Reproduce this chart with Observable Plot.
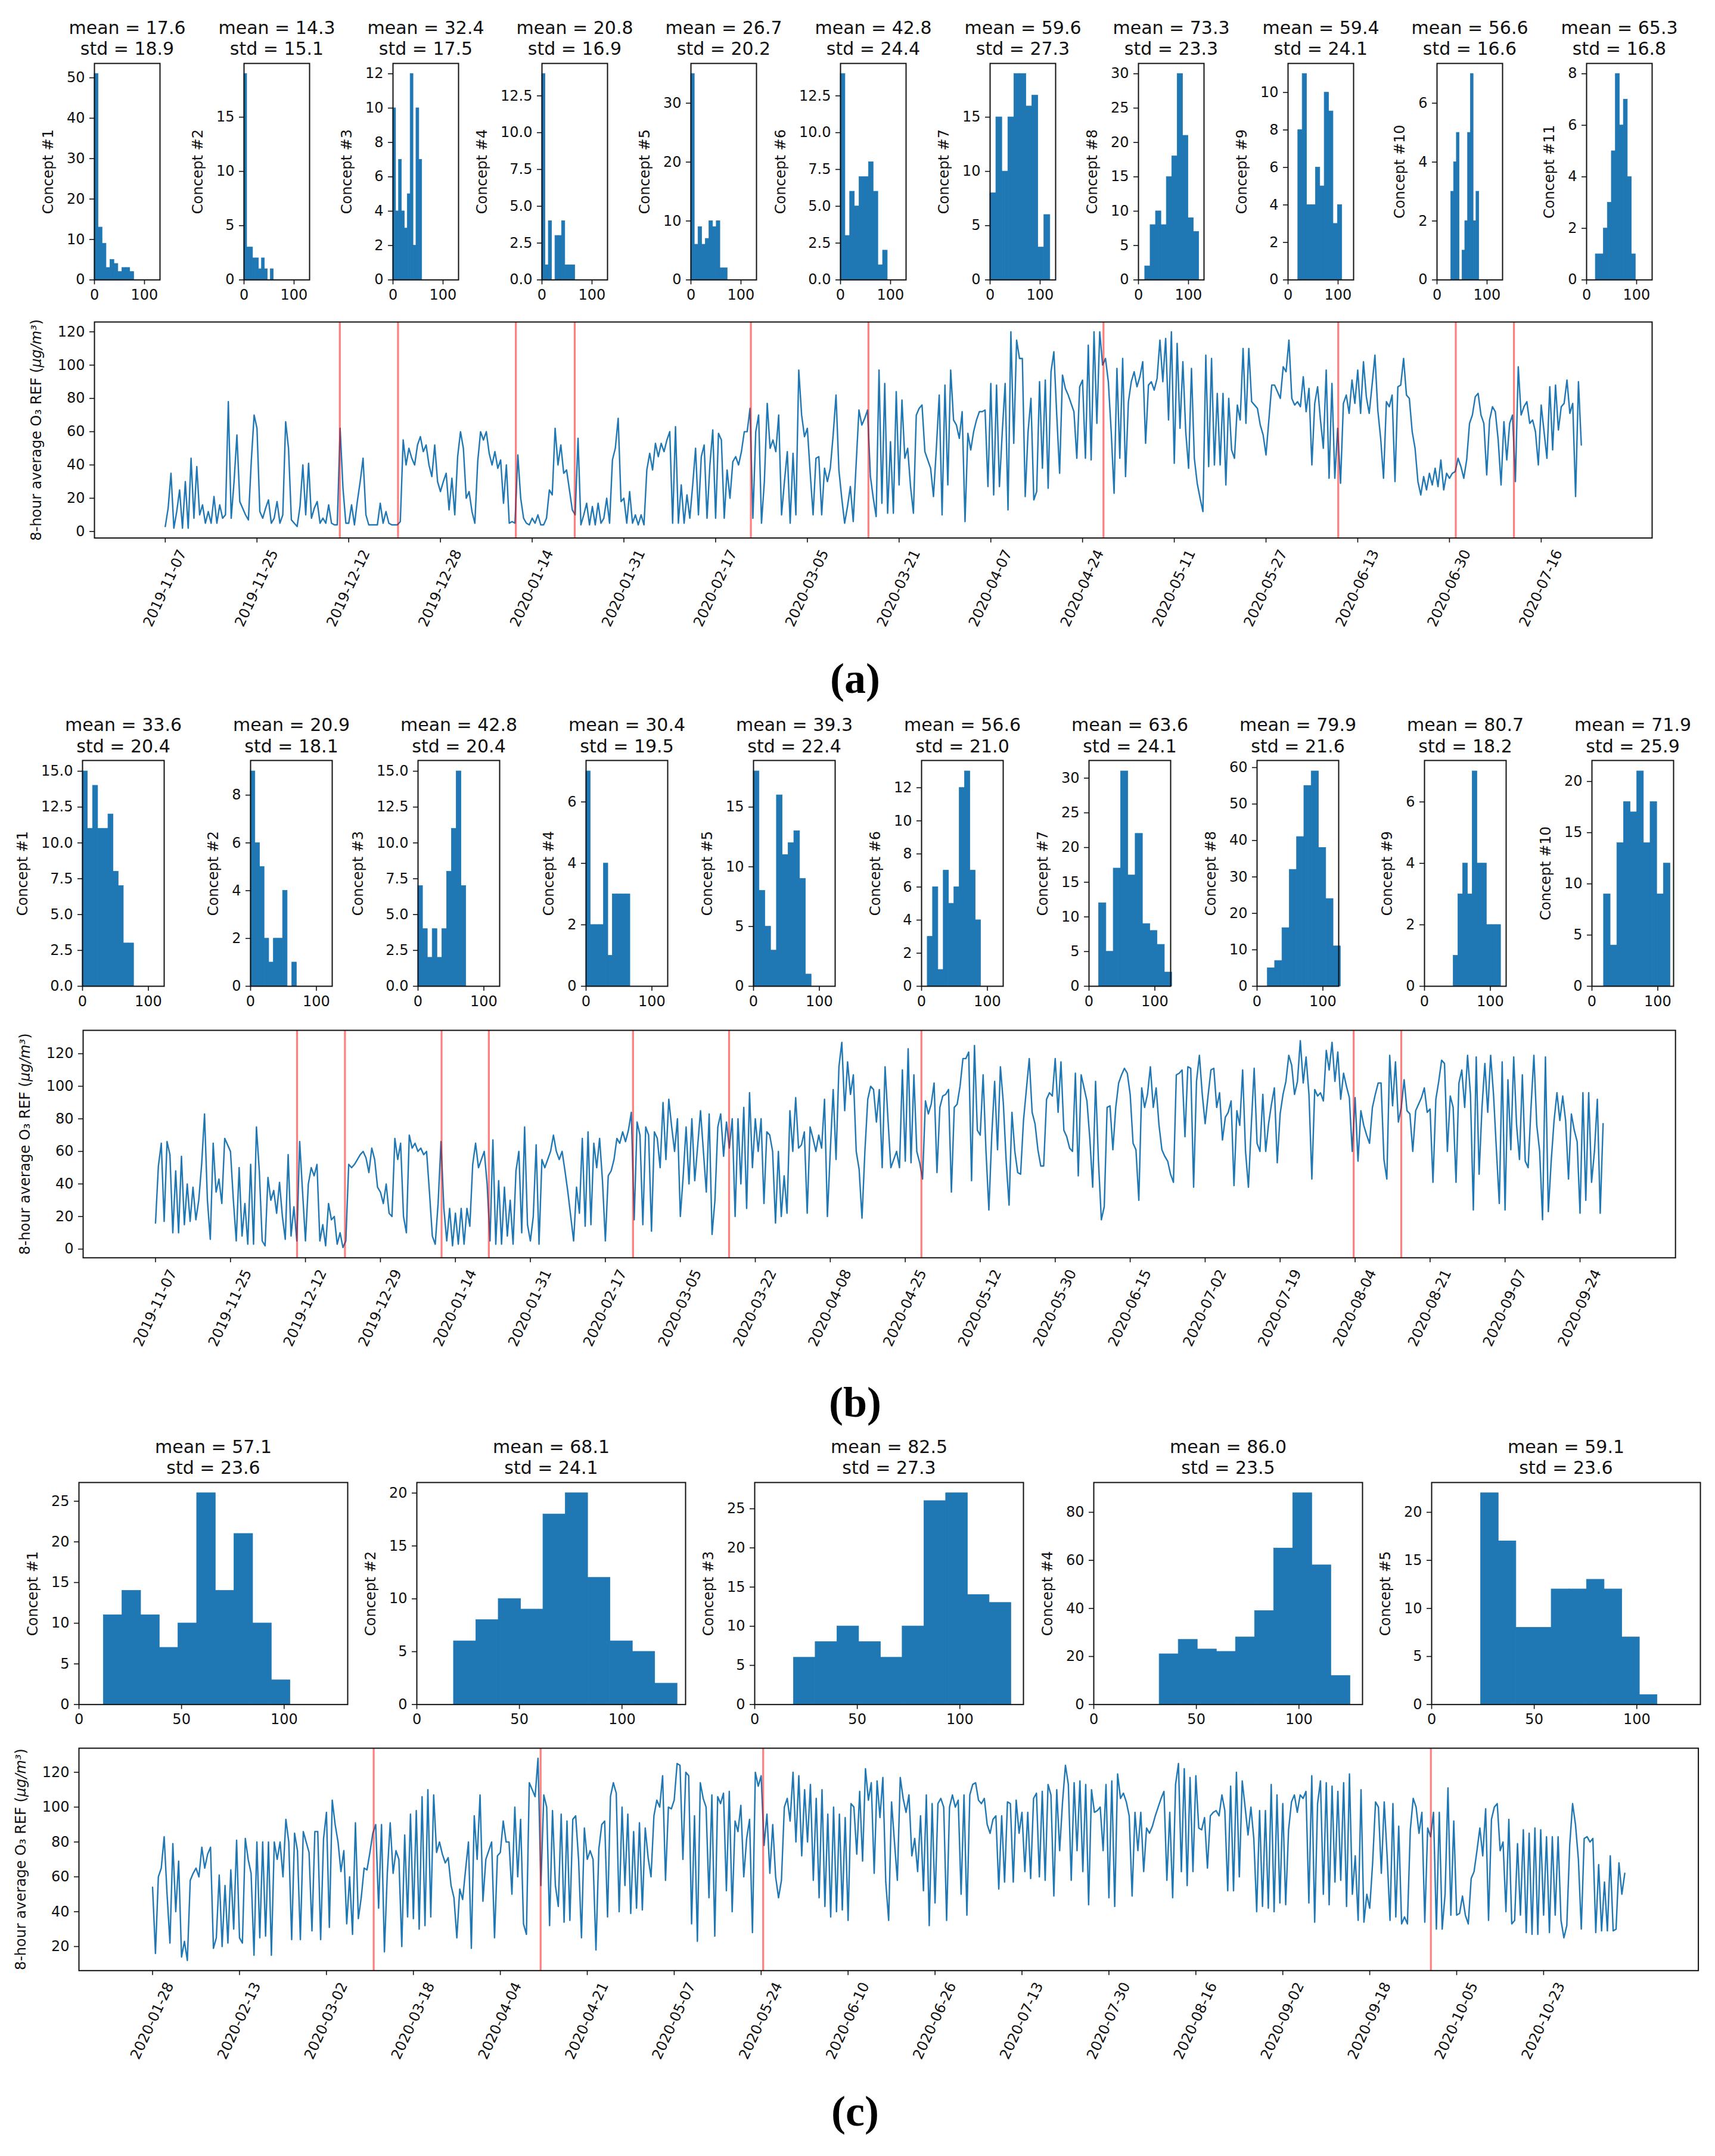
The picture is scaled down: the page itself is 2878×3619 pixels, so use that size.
<!DOCTYPE html>
<html>
<head>
<meta charset="utf-8">
<script src="https://cdn.jsdelivr.net/npm/d3@7"></script>
<script src="https://cdn.jsdelivr.net/npm/@observablehq/plot@0.6"></script>
<style>
  html, body { margin: 0; padding: 0; background: #fff; }
  #root { position: relative; width: 2878px; height: 3619px; background: #fff; overflow: hidden; }
  .cell { position: absolute; }
  .cell svg { display: block; overflow: visible; max-width: none; }
  .cap { position: absolute; width: 200px; margin-left: -100px; text-align: center;
         font-family: "Liberation Serif", "DejaVu Serif", serif; font-weight: bold;
         font-size: 72px; line-height: 72px; color: #000; }
</style>
</head>
<body>
<div id="root"></div>
<script>
// ===================== DATA =====================
// Panel (a): per-concept histograms
const aHistMean = [17.6,14.3,32.4,20.8,26.7,42.8,59.6,73.3,59.4,56.6,65.3];
const aHistStd  = [18.9,15.1,17.5,16.9,20.2,24.4,27.3,23.3,24.1,16.6,16.8];
const aBinLo = [0,0,0,0,0,0,0,13,20,28,18];
const aBinHi = [79,59,58,66,73,94,120,121,108,84,98];
const aCounts = [
  [51,13,9,3,5,4,2,3,3,2],
  [19,3,3,2,2,1,2,1,0,1],
  [10,4,7,4,3,5,12,2,10,7],
  [14,1,4,0,3,3,4,1,1,1],
  [35,6,9,6,7,10,9,10,2,2],
  [14,3,6,5,7,7,8,6,1,2],
  [8,15,10,15,19,19,16,17,3,6],
  [2,8,10,8,15,18,30,21,9,7],
  [8,11,4,4,6,5,10,9,3,4],
  [3,4,5,0,1,2,5,7,2,3],
  [1,1,2,3,5,8,6,7,4,1]
];
const aYStep = [10,5,2,2.5,10,2.5,5,5,2,2,2];

// Panel (b): per-concept histograms
const bHistMean = [33.6,20.9,42.8,30.4,39.3,56.6,63.6,79.9,80.7,71.9];
const bHistStd  = [20.4,18.1,20.4,19.5,22.4,21.0,24.1,21.6,18.2,25.9];
const bBinLo = [0,0,0,0,0,9,15,16,44,18];
const bBinHi = [78,70,73,67,88,90,126,127,116,119];
const bCounts = [
  [15,11,14,11,11,12,8,7,3,3],
  [9,6,5,2,1,2,2,4,0,1],
  [7,4,2,4,2,4,8,11,15,7],
  [7,2,2,2,4,1,3,3,3,3],
  [18,8,5,3,16,11,12,13,9,1],
  [3,6,1,7,5,6,12,13,7,4],
  [12,5,17,31,16,22,9,8,6,2],
  [5,7,16,32,41,55,59,38,24,11],
  [1,3,4,3,7,4,4,2,2,2],
  [9,4,14,18,17,21,14,18,9,12]
];
const bYStep = [2.5,2,2.5,2,5,2,5,10,2,5];

// Panel (c): per-concept histograms
const cHistMean = [57.1,68.1,82.5,86.0,59.1];
const cHistStd  = [23.6,24.1,27.3,23.5,23.6];
const cBinLo = [12,18,19,32,24];
const cBinHi = [103,127,125,125,110];
const cCounts = [
  [11,14,11,7,10,26,14,21,10,3],
  [6,8,10,9,18,20,12,6,5,2],
  [6,8,10,8,6,10,26,27,14,13],
  [21,27,23,22,28,39,65,88,58,12],
  [22,17,8,8,12,12,13,12,7,1]
];
const cYStep = [5,5,5,20,5];

// Time series (8-hour average O3, ug/m3), sampled evenly between date ticks
const aSeries = [
  3,14,35,2,12,25,2,30,2,44,8,39,10,16,5,12,5,21,5,16,8,10,78,8,30,58,18,14,10,7,42,70,
  62,12,8,14,19,5,8,18,5,10,66,50,7,5,3,15,40,10,41,8,14,18,5,8,5,16,5,4,4,62,26,5,
  5,16,4,18,30,44,10,4,4,4,4,17,5,12,5,4,4,4,6,55,40,50,44,40,52,57,48,52,40,33,52,30,
  24,30,35,13,32,10,45,60,50,20,24,12,5,42,60,55,60,47,40,48,38,43,17,40,5,6,5,46,20,8,5,4,
  8,5,10,4,4,8,25,22,62,40,52,35,37,25,13,10,56,4,10,17,4,15,4,17,5,8,20,5,43,50,68,18,
  20,5,24,5,10,4,10,4,37,47,37,53,45,53,48,55,60,5,63,5,28,5,22,8,28,50,10,45,52,8,40,61,
  8,59,55,8,37,20,42,45,40,48,60,60,74,8,60,70,5,30,77,50,55,48,70,10,30,48,5,47,10,97,70,57,
  62,35,10,44,45,10,38,30,38,58,82,37,20,5,15,27,6,40,73,64,68,73,33,20,9,97,17,89,11,54,11,84,
  28,79,44,50,27,11,70,74,76,48,43,38,21,50,82,10,88,28,97,67,64,56,72,6,59,49,60,67,72,72,73,27,
  89,22,88,27,60,89,13,120,53,115,104,104,21,60,80,19,24,90,38,91,26,96,108,70,35,94,86,82,77,72,44,87,
  91,44,112,43,120,65,120,100,104,90,60,23,98,44,104,33,78,90,96,87,93,102,53,88,90,85,92,115,90,116,67,120,
  41,113,62,102,60,38,98,44,29,20,12,106,39,104,40,83,40,83,28,80,49,44,76,67,110,65,110,78,76,74,64,58,
  46,67,88,88,84,80,99,96,115,80,76,78,75,93,72,86,40,77,87,67,50,97,32,89,32,62,29,77,82,71,91,77,
  97,71,102,81,71,88,106,73,56,32,78,75,82,30,87,88,104,82,80,60,50,30,22,33,25,35,28,38,27,43,25,35,
  32,35,36,44,39,32,43,65,70,81,83,70,65,34,67,75,72,55,28,66,43,65,70,30,99,70,75,78,65,67,60,40,
  76,60,44,87,49,88,61,75,77,91,71,77,21,90,52
];
const aDates = ["2019-11-07","2019-11-25","2019-12-12","2019-12-28","2020-01-14","2020-01-31","2020-02-17","2020-03-05","2020-03-21","2020-04-07","2020-04-24","2020-05-11","2020-05-27","2020-06-13","2020-06-30","2020-07-16"];
const aDrift = [60.9,81.2,122.3,142.85,204.3,245.3,327.3,409.2,450.2,470.5];

const bSeries = [
  16,51,65,17,66,58,10,48,10,57,15,40,17,38,18,30,52,83,30,6,65,35,43,28,68,64,
  60,30,5,50,8,28,3,52,3,75,48,5,2,44,30,36,22,41,20,6,58,8,26,5,66,35,
  5,40,50,45,52,5,15,2,28,18,20,3,10,1,5,52,50,52,55,58,60,56,47,62,55,38,
  35,28,40,22,20,68,55,65,20,10,70,62,65,60,62,58,60,35,8,3,28,66,25,5,25,2,
  22,3,25,3,25,14,52,65,50,55,60,40,5,67,3,42,3,38,8,30,3,48,60,10,75,15,
  5,20,64,3,55,50,55,60,70,60,55,60,48,35,20,5,38,22,68,14,72,15,65,50,68,42,
  5,45,48,55,68,65,72,66,73,84,18,78,70,15,75,70,11,72,68,50,90,55,92,75,60,80,
  20,45,75,40,80,42,63,85,60,35,83,9,30,75,83,57,78,62,80,20,80,40,87,25,96,50,
  80,60,80,28,72,70,60,16,60,20,45,22,85,60,93,62,64,72,22,75,68,60,70,62,92,20,
  60,98,55,112,127,85,115,95,107,60,49,19,60,92,100,98,78,98,50,112,80,50,55,60,50,110,
  54,123,53,107,60,53,43,91,83,89,102,47,87,94,95,98,35,87,89,100,117,117,121,42,125,73,
  70,107,60,24,70,103,61,112,90,54,27,84,60,47,46,79,98,117,84,77,61,51,51,92,96,94,
  117,84,115,73,69,62,60,108,45,107,99,91,68,38,103,54,18,26,87,88,61,87,102,107,111,108,
  95,65,61,30,99,87,95,112,87,99,76,61,57,54,46,41,107,108,110,69,112,111,38,103,119,95,
  77,94,110,111,87,96,67,81,84,91,39,85,76,110,60,38,76,111,65,60,95,60,77,89,99,53,
  83,95,103,119,113,95,103,128,102,118,95,43,98,94,96,91,122,110,127,103,121,92,108,100,93,60,
  93,54,85,76,70,65,87,95,102,102,55,43,119,88,115,78,87,104,85,83,60,85,89,93,99,84,
  86,41,92,103,116,114,60,94,87,41,102,110,87,119,95,24,118,46,87,114,84,119,95,61,28,115,
  24,104,61,118,76,55,107,54,50,87,119,76,60,18,118,23,54,79,96,79,94,79,43,83,73,66,
  22,96,30,96,41,60,92,22,77
];
const bDates = ["2019-11-07","2019-11-25","2019-12-12","2019-12-29","2020-01-14","2020-01-31","2020-02-17","2020-03-05","2020-03-22","2020-04-08","2020-04-25","2020-05-12","2020-05-30","2020-06-15","2020-07-02","2020-07-19","2020-08-04","2020-08-21","2020-09-07","2020-09-24"];
const bDrift = [49.1,65.7,99.2,115.6,165.6,198.9,265.6,415.5,432.0];

const cSeries = [
  54,16,60,65,83,50,22,79,40,69,14,23,12,58,62,65,60,77,65,73,77,19,25,61,20,55,22,64,30,81,
  25,22,82,70,62,15,80,25,80,26,80,15,80,70,80,60,93,80,24,85,75,24,86,80,74,29,86,86,24,82,
  97,31,104,90,80,63,75,33,60,27,91,36,48,65,64,74,85,90,42,90,17,62,91,62,75,70,20,84,37,96,
  36,98,30,106,32,110,37,107,74,80,73,68,71,55,48,25,53,47,64,80,19,95,70,107,46,70,75,80,25,72,
  74,92,80,80,50,100,60,93,33,27,114,110,106,128,55,107,100,32,98,55,43,96,34,92,35,93,95,70,25,88,
  70,75,70,18,76,90,92,37,106,114,108,40,100,55,96,39,86,42,91,41,88,71,60,95,104,100,118,58,100,99,
  104,125,124,70,120,118,33,95,23,114,105,100,48,107,26,106,102,108,52,109,40,92,86,101,60,82,93,28,120,112,
  118,78,96,62,90,60,48,58,100,105,92,120,80,118,72,110,80,113,58,105,48,110,43,96,37,100,40,96,41,94,
  35,102,100,73,109,69,122,104,114,62,115,94,117,57,35,103,80,58,117,105,97,107,72,82,63,95,52,107,32,102,
  45,102,105,100,35,100,107,100,104,50,107,38,107,113,114,104,102,105,90,85,93,95,53,95,57,103,102,57,104,85,
  97,63,97,59,105,108,60,109,58,113,107,49,110,75,103,124,113,58,114,75,115,63,113,44,110,97,98,100,75,113,
  48,115,43,119,105,108,103,95,49,97,75,97,63,88,85,89,95,100,105,109,58,97,48,113,125,63,122,55,117,63,
  118,88,87,94,65,95,97,98,95,107,98,52,112,52,120,60,115,100,84,100,82,40,98,43,98,42,113,40,107,45,
  102,44,87,103,107,97,107,105,109,45,118,34,102,115,50,114,44,112,57,109,58,114,43,119,50,72,35,110,34,50,
  42,68,103,100,62,103,72,35,102,37,89,33,37,33,87,105,100,85,97,34,88,83,97,30,97,30,50,111,38,92,
  38,39,49,38,33,59,63,75,88,72,99,35,93,100,102,75,80,40,93,33,35,79,38,87,28,85,27,88,27,87,
  38,83,28,83,38,83,35,25,32,78,102,90,70,30,82,83,80,82,28,67,29,57,29,72,29,30,68,50,62
];
const cDates = ["2020-01-28","2020-02-13","2020-03-02","2020-03-18","2020-04-04","2020-04-21","2020-05-07","2020-05-24","2020-06-10","2020-06-26","2020-07-13","2020-07-30","2020-08-16","2020-09-02","2020-09-18","2020-10-05","2020-10-23"];
const cDrift = [76.3,133.9,210.7,441.1];

const tsYTicksAB = [0,20,40,60,80,100,120];
const tsYTicksC = [20,40,60,80,100,120];
const yLabelText = "8-hour average O₃ REF (μg/m³)";

// ===================== LAYOUT =====================
const LAYOUT = {
  aHist: {lefts: [158,409,659,909,1159,1410,1661,1910,2161,2411,2662], w: 110, top: 106, h: 363.3, xmax: 131, xticks: [0,100]},
  bHist: {lefts: [138,420,701,983,1264,1546,1827,2109,2390,2671], w: 137, top: 1276, h: 379, xmax: 124, xticks: [0,100]},
  cHist: {lefts: [132,699,1266,1835,2402], w: 451, top: 2488.3, h: 372.7, xmax: 131, xticks: [0,50,100]},
  aTS: {left: 158, top: 540, w: 2614, h: 362.6, per: 32},
  bTS: {left: 138.8, top: 1728.5, w: 2672.2, h: 381.8, per: 26},
  cTS: {left: 132, top: 2934, w: 2717.6, h: 373.3, per: 30},
  caps: [["(a)", 1435, 1163], ["(b)", 1435, 2378], ["(c)", 1435, 3568]]
};
const FONT = "DejaVu Sans";
const INK = "#111";
const BLUE = "#1f77b4";

// ===================== DRAWING =====================
const root = document.getElementById("root");
const ctx = document.createElement("canvas").getContext("2d");
ctx.font = "24px 'DejaVu Sans'";
const tw = s => ctx.measureText(s).width;

function place(svg, left, top) {
  const d = document.createElement("div");
  d.className = "cell";
  d.style.left = left + "px";
  d.style.top = top + "px";
  d.style.width = svg.getAttribute("width") + "px";
  d.appendChild(svg);
  root.appendChild(d);
}

function drawHist(o) {
  const nb = o.counts.length;
  const bins = o.counts.map((c, k) => ({
    x1: o.lo + (o.hi - o.lo) * k / nb,
    x2: o.lo + (o.hi - o.lo) * (k + 1) / nb,
    c
  }));
  const cmax = d3.max(o.counts);
  const ytop = cmax * 1.05;
  const yt = d3.range(0, ytop + 1e-9, o.step);
  const fmt = (o.step % 1) ? (d => d.toFixed(1)) : (d => String(Math.round(d)));
  const off = 56 + d3.max(yt, t => tw(fmt(t)));
  const ml = Math.ceil(off + 36), mr = 16, mt = 110, mb = 56;
  const svg = Plot.plot({
    width: o.w + ml + mr, height: o.h + mt + mb,
    marginLeft: ml, marginRight: mr, marginTop: mt, marginBottom: mb,
    style: {fontFamily: FONT, fontSize: "24px", color: INK, background: "none", overflow: "visible"},
    x: {domain: [0, o.xmax]},
    y: {domain: [0, ytop]},
    marks: [
      Plot.rectY(bins.filter(b => b.c > 0), {x1: "x1", x2: "x2", y: "c", fill: BLUE, stroke: BLUE, strokeWidth: 0.8, inset: 0}),
      Plot.frame({stroke: INK, strokeWidth: 2}),
      Plot.axisX({ticks: o.xticks, tickSize: 8, tickPadding: 8, label: null, strokeWidth: 1.6}),
      Plot.axisY({ticks: yt, tickFormat: fmt, tickSize: 8, tickPadding: 8, strokeWidth: 1.6,
                  label: o.label, labelAnchor: "center", labelOffset: off, labelArrow: "none"}),
      Plot.text([o.title], {frameAnchor: "top", dy: -14, lineAnchor: "bottom", fontSize: 30, lineHeight: 1.2, fill: INK})
    ]
  });
  place(svg, o.left - ml, o.top - mt);
}

function italicUnits(svg) {
  const t = svg.querySelector('g[aria-label="y-axis label"] text');
  if (!t) return;
  const ns = "http://www.w3.org/2000/svg";
  t.textContent = "";
  for (const [s, it] of [["8-hour average O₃ REF (", false], ["μg/m³", true], [")", false]]) {
    const sp = document.createElementNS(ns, "tspan");
    sp.textContent = s;
    if (it) sp.setAttribute("font-style", "italic");
    t.appendChild(sp);
  }
}

function drawSeries(o) {
  const n = o.values.length;
  const [mn, mx] = d3.extent(o.values);
  const pad = 0.05 * (mx - mn);
  const tickIdx = o.dates.map((_, k) => k * o.per);
  const off = 61 + d3.max(o.yticks, t => tw(String(t)));
  const ml = Math.ceil(off + 40), mr = 16, mt = 16, mb = 180;
  const svg = Plot.plot({
    width: o.w + ml + mr, height: o.h + mt + mb,
    marginLeft: ml, marginRight: mr, marginTop: mt, marginBottom: mb,
    style: {fontFamily: FONT, fontSize: "24px", color: INK, background: "none", overflow: "visible"},
    x: {domain: [-0.05 * (n - 1), 1.05 * (n - 1)]},
    y: {domain: [mn - pad, mx + pad]},
    marks: [
      Plot.lineY(o.values, {x: (d, i) => i, y: d => d, stroke: BLUE, strokeWidth: 2.4}),
      Plot.ruleX(o.drift, {stroke: "#ff0000", strokeOpacity: 0.5, strokeWidth: 3.2}),
      Plot.frame({stroke: INK, strokeWidth: 2}),
      Plot.axisX({ticks: tickIdx, tickSize: 8, tickFormat: () => "", label: null, strokeWidth: 1.6}),
      Plot.text(tickIdx, {x: d => d, frameAnchor: "bottom", text: (d, i) => o.dates[i], rotate: -65,
                          textAnchor: "end", lineAnchor: "middle", dx: 29, dy: 21, fontSize: 24, fill: INK}),
      Plot.axisY({ticks: o.yticks, tickSize: 8, tickPadding: 8, strokeWidth: 1.6,
                  label: yLabelText, labelAnchor: "center", labelOffset: off, labelArrow: "none"})
    ]
  });
  italicUnits(svg);
  place(svg, o.left - ml, o.top - mt);
}

function histPanel(L, means, stds, los, his, counts, steps) {
  counts.forEach((cnt, i) => drawHist({
    left: L.lefts[i], top: L.top, w: L.w, h: L.h, xmax: L.xmax, xticks: L.xticks,
    lo: los[i], hi: his[i], counts: cnt, step: steps[i],
    label: `Concept #${i + 1}`,
    title: `mean = ${means[i].toFixed(1)}\nstd = ${stds[i].toFixed(1)}`
  }));
}

histPanel(LAYOUT.aHist, aHistMean, aHistStd, aBinLo, aBinHi, aCounts, aYStep);
histPanel(LAYOUT.bHist, bHistMean, bHistStd, bBinLo, bBinHi, bCounts, bYStep);
histPanel(LAYOUT.cHist, cHistMean, cHistStd, cBinLo, cBinHi, cCounts, cYStep);

drawSeries({...LAYOUT.aTS, values: aSeries, dates: aDates, drift: aDrift, yticks: tsYTicksAB});
drawSeries({...LAYOUT.bTS, values: bSeries, dates: bDates, drift: bDrift, yticks: tsYTicksAB});
drawSeries({...LAYOUT.cTS, values: cSeries, dates: cDates, drift: cDrift, yticks: tsYTicksC});

for (const [t, x, base] of LAYOUT.caps) {
  const d = document.createElement("div");
  d.className = "cap";
  d.textContent = t;
  d.style.left = x + "px";
  d.style.top = (base - 60) + "px";
  root.appendChild(d);
}
</script>
</body>
</html>
